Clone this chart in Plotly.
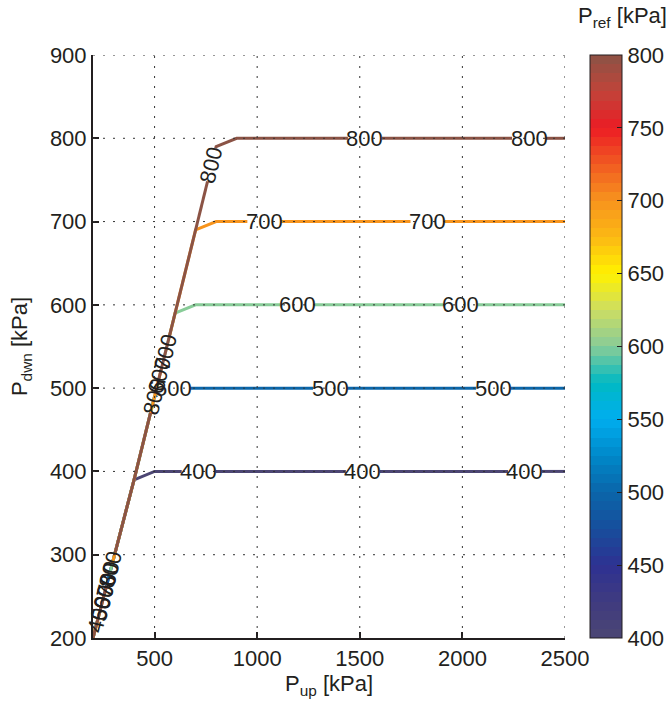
import numpy as np
import plotly.graph_objects as go

# ---- figure geometry -------------------------------------------------------
FIG_W, FIG_H = 668, 708
M_L, M_R, M_T, M_B = 93, 103, 55, 70
X_RANGE = [200, 2500]
Y_RANGE = [200, 900]
PLOT_W = FIG_W - M_L - M_R
PLOT_H = FIG_H - M_T - M_B
KX = PLOT_W / (X_RANGE[1] - X_RANGE[0])   # px per kPa (x)
KY = PLOT_H / (Y_RANGE[1] - Y_RANGE[0])   # px per kPa (y)

FONT = "Liberation Sans, Arial, Helvetica, sans-serif"
INK = "#231f20"
FS = 22

# ---- data ------------------------------------------------------------------
# contour levels of the reference pressure [kPa]
levels = [400, 500, 600, 700, 800]

# shared choked-flow branch where all iso-lines collapse together
diag_p_up = [200, 400, 500, 600, 700, 800]
diag_p_dwn = [200, 390, 490, 590, 690, 790]

# upstream pressure at which each iso-line becomes flat (P_dwn = P_ref)
knee_p_up = [500, 600, 700, 800, 900]
end_p_up = 2500

# inline contour labels: on the flat part (by P_up) and on the steep branch (by P_dwn)
flat_label_p_up = [
    [715, 1515, 2305],
    [590, 1355, 2150],
    [1195, 1990],
    [1035, 1830],
    [1525, 2325],
]
diag_label_p_dwn = [
    [228],
    [242],
    [256, 516],
    [270, 543],
    [283, 490, 768],
]

# colour bar ticks
cbar_ticks = [400, 450, 500, 550, 600, 650, 700, 750, 800]

# colour map anchors (value -> colour)
cmap_values = [400, 425, 450, 475, 500, 525, 550, 575, 600,
               625, 650, 675, 700, 725, 750, 775, 800]
cmap_colors = ["#4c4673", "#3f3b80", "#2e3192", "#174e9c", "#0a66aa",
               "#0088c9", "#00aeef", "#00b9c3", "#88cc98", "#cddd62",
               "#fff200", "#fcb814", "#f7941d", "#f15a22", "#ec1c24",
               "#c0443a", "#8b5345"]
CMIN, CMAX, NBANDS = 400, 800, 64


def hex_to_rgb(h):
    h = h.lstrip("#")
    return np.array([int(h[i:i + 2], 16) for i in (0, 2, 4)], dtype=float)


ANCHORS = np.array([hex_to_rgb(c) for c in cmap_colors])


def color_at(v):
    rgb = [np.interp(v, cmap_values, ANCHORS[:, k]) for k in range(3)]
    return "rgb(%d,%d,%d)" % tuple(int(round(c)) for c in rgb)


# stepped colour scale like a 64-entry colormap
colorscale = []
for i in range(NBANDS):
    c = color_at(CMIN + (i + 0.5) * (CMAX - CMIN) / NBANDS)
    colorscale.append([i / NBANDS, c])
    colorscale.append([(i + 1) / NBANDS, c])


# ---- helpers ---------------------------------------------------------------
def arc_length(xs, ys):
    sx = (np.asarray(xs, float) - X_RANGE[0]) * KX
    sy = (np.asarray(ys, float) - Y_RANGE[0]) * KY
    return np.concatenate([[0.0], np.cumsum(np.hypot(np.diff(sx), np.diff(sy)))])


def locate(xs, ys, s, px, py):
    """Arc position of the point on the polyline nearest to (px, py)."""
    best, best_s = None, 0.0
    P = np.array([(px - X_RANGE[0]) * KX, (py - Y_RANGE[0]) * KY])
    for i in range(len(xs) - 1):
        A = np.array([(xs[i] - X_RANGE[0]) * KX, (ys[i] - Y_RANGE[0]) * KY])
        B = np.array([(xs[i + 1] - X_RANGE[0]) * KX, (ys[i + 1] - Y_RANGE[0]) * KY])
        AB = B - A
        t = np.clip(np.dot(P - A, AB) / max(np.dot(AB, AB), 1e-12), 0, 1)
        d = np.linalg.norm(A + t * AB - P)
        if best is None or d < best:
            best, best_s = d, s[i] + t * (s[i + 1] - s[i])
    return best_s


def with_gaps(xs, ys, label_pts, half_px):
    """Break the polyline where inline labels sit."""
    s = arc_length(xs, ys)
    gaps = sorted((locate(xs, ys, s, px, py) - half_px,
                   locate(xs, ys, s, px, py) + half_px) for px, py in label_pts)
    merged = []
    for a, b in gaps:
        if merged and a <= merged[-1][1]:
            merged[-1][1] = max(merged[-1][1], b)
        else:
            merged.append([a, b])
    pts = [(si, "v") for si in s if not any(a < si < b for a, b in merged)]
    for a, b in merged:
        if a > 0:
            pts.append((a, "start"))
        if b < s[-1]:
            pts.append((b, "end"))
    pts.sort(key=lambda p: p[0])
    out_x, out_y = [], []
    for si, kind in pts:
        out_x.append(float(np.interp(si, s, xs)))
        out_y.append(float(np.interp(si, s, ys)))
        if kind == "start":
            out_x.append(None)
            out_y.append(None)
    return out_x, out_y


DIAG_ANGLE = -np.degrees(np.arctan2((diag_p_dwn[-1] - diag_p_dwn[1]) * KY,
                                    (diag_p_up[-1] - diag_p_up[1]) * KX))

# ---- figure ----------------------------------------------------------------
fig = go.Figure()
annotations = []

for lvl, knee, flat_lab, diag_lab in zip(levels, knee_p_up, flat_label_p_up, diag_label_p_dwn):
    xs = [x for x in diag_p_up if x <= lvl] + [knee, end_p_up]
    ys = [y for x, y in zip(diag_p_up, diag_p_dwn) if x <= lvl] + [lvl, lvl]

    labels = []
    for lx in flat_lab:
        labels.append((lx, float(np.interp(lx, xs, ys)), 0.0))
    for ly in diag_lab:
        labels.append((float(np.interp(ly, diag_p_dwn, diag_p_up)), ly, DIAG_ANGLE))

    gx, gy = with_gaps(xs, ys, [(lx, ly) for lx, ly, _ in labels], 17)
    fig.add_trace(go.Scatter(
        x=gx, y=gy, mode="lines",
        line=dict(color=color_at(lvl), width=3),
        hoverinfo="skip", showlegend=False,
    ))
    for lx, ly, ang in labels:
        annotations.append(dict(
            x=lx, y=ly, xref="x", yref="y", text=str(lvl), showarrow=False,
            textangle=ang, font=dict(family=FONT, size=FS, color=INK),
            xanchor="center", yanchor="middle",
        ))

# colour bar carrier
CBAR_X = (590 - M_L) / PLOT_W
CBAR_T = 32
fig.add_trace(go.Scatter(
    x=[None], y=[None], mode="markers", hoverinfo="skip", showlegend=False,
    marker=dict(
        color=[CMIN], cmin=CMIN, cmax=CMAX, colorscale=colorscale, showscale=True,
        colorbar=dict(
            thickness=CBAR_T, thicknessmode="pixels", len=1.0, lenmode="fraction",
            x=CBAR_X, xanchor="left", xpad=0,
            y=0.5, yanchor="middle", ypad=0,
            outlinewidth=1, outlinecolor=INK,
            tickmode="array", tickvals=cbar_ticks,
            ticks="inside", ticklen=5, tickwidth=1, tickcolor=INK,
            tickfont=dict(family=FONT, size=FS, color=INK),
        ),
    ),
))

annotations.append(dict(
    x=(622 - M_L) / PLOT_W, y=1.0 + (M_T - 17) / PLOT_H,
    xref="paper", yref="paper", text="P<sub>ref</sub> [kPa]", showarrow=False,
    xanchor="center", yanchor="middle", font=dict(family=FONT, size=FS, color=INK),
))

# dotted grid drawn over the iso-lines
x_ticks = [500, 1000, 1500, 2000, 2500]
y_ticks = list(range(200, 901, 100))
shapes = []
grid_line = dict(color="#333333", width=1, dash="2px,8px")
for xv in x_ticks:
    shapes.append(dict(type="line", xref="x", yref="y", x0=xv, x1=xv,
                       y0=Y_RANGE[0], y1=Y_RANGE[1], line=grid_line, layer="above"))
for yv in y_ticks[1:]:
    shapes.append(dict(type="line", xref="x", yref="y", x0=X_RANGE[0], x1=X_RANGE[1],
                       y0=yv, y1=yv, line=grid_line, layer="above"))

# inward ticks on the left edge of the colour bar as well
for tv in cbar_ticks[1:-1]:
    yp = (tv - CMIN) / (CMAX - CMIN)
    shapes.append(dict(type="line", xref="paper", yref="paper",
                       x0=CBAR_X, x1=CBAR_X + 5 / PLOT_W, y0=yp, y1=yp,
                       line=dict(color=INK, width=1), layer="above"))

axis_common = dict(
    showgrid=False, zeroline=False, showline=True, linecolor=INK, linewidth=2,
    ticks="inside", ticklen=6, tickwidth=2, tickcolor=INK, mirror=False,
    tickfont=dict(family=FONT, size=FS, color=INK), layer="above traces",
)

fig.update_layout(
    width=FIG_W, height=FIG_H,
    margin=dict(l=M_L, r=M_R, t=M_T, b=M_B, pad=0, autoexpand=False),
    paper_bgcolor="white", plot_bgcolor="white",
    font=dict(family=FONT, size=FS, color=INK),
    xaxis=dict(range=X_RANGE, tickmode="array", tickvals=x_ticks,
               title=dict(text="P<sub>up</sub> [kPa]", standoff=4,
                          font=dict(family=FONT, size=FS, color=INK)),
               **axis_common),
    yaxis=dict(range=Y_RANGE, tickmode="array", tickvals=y_ticks,
               title=dict(text="P<sub>dwn</sub> [kPa]", standoff=16,
                          font=dict(family=FONT, size=FS, color=INK)),
               **axis_common),
    annotations=annotations,
    shapes=shapes,
)

fig.write_html("out.html")
